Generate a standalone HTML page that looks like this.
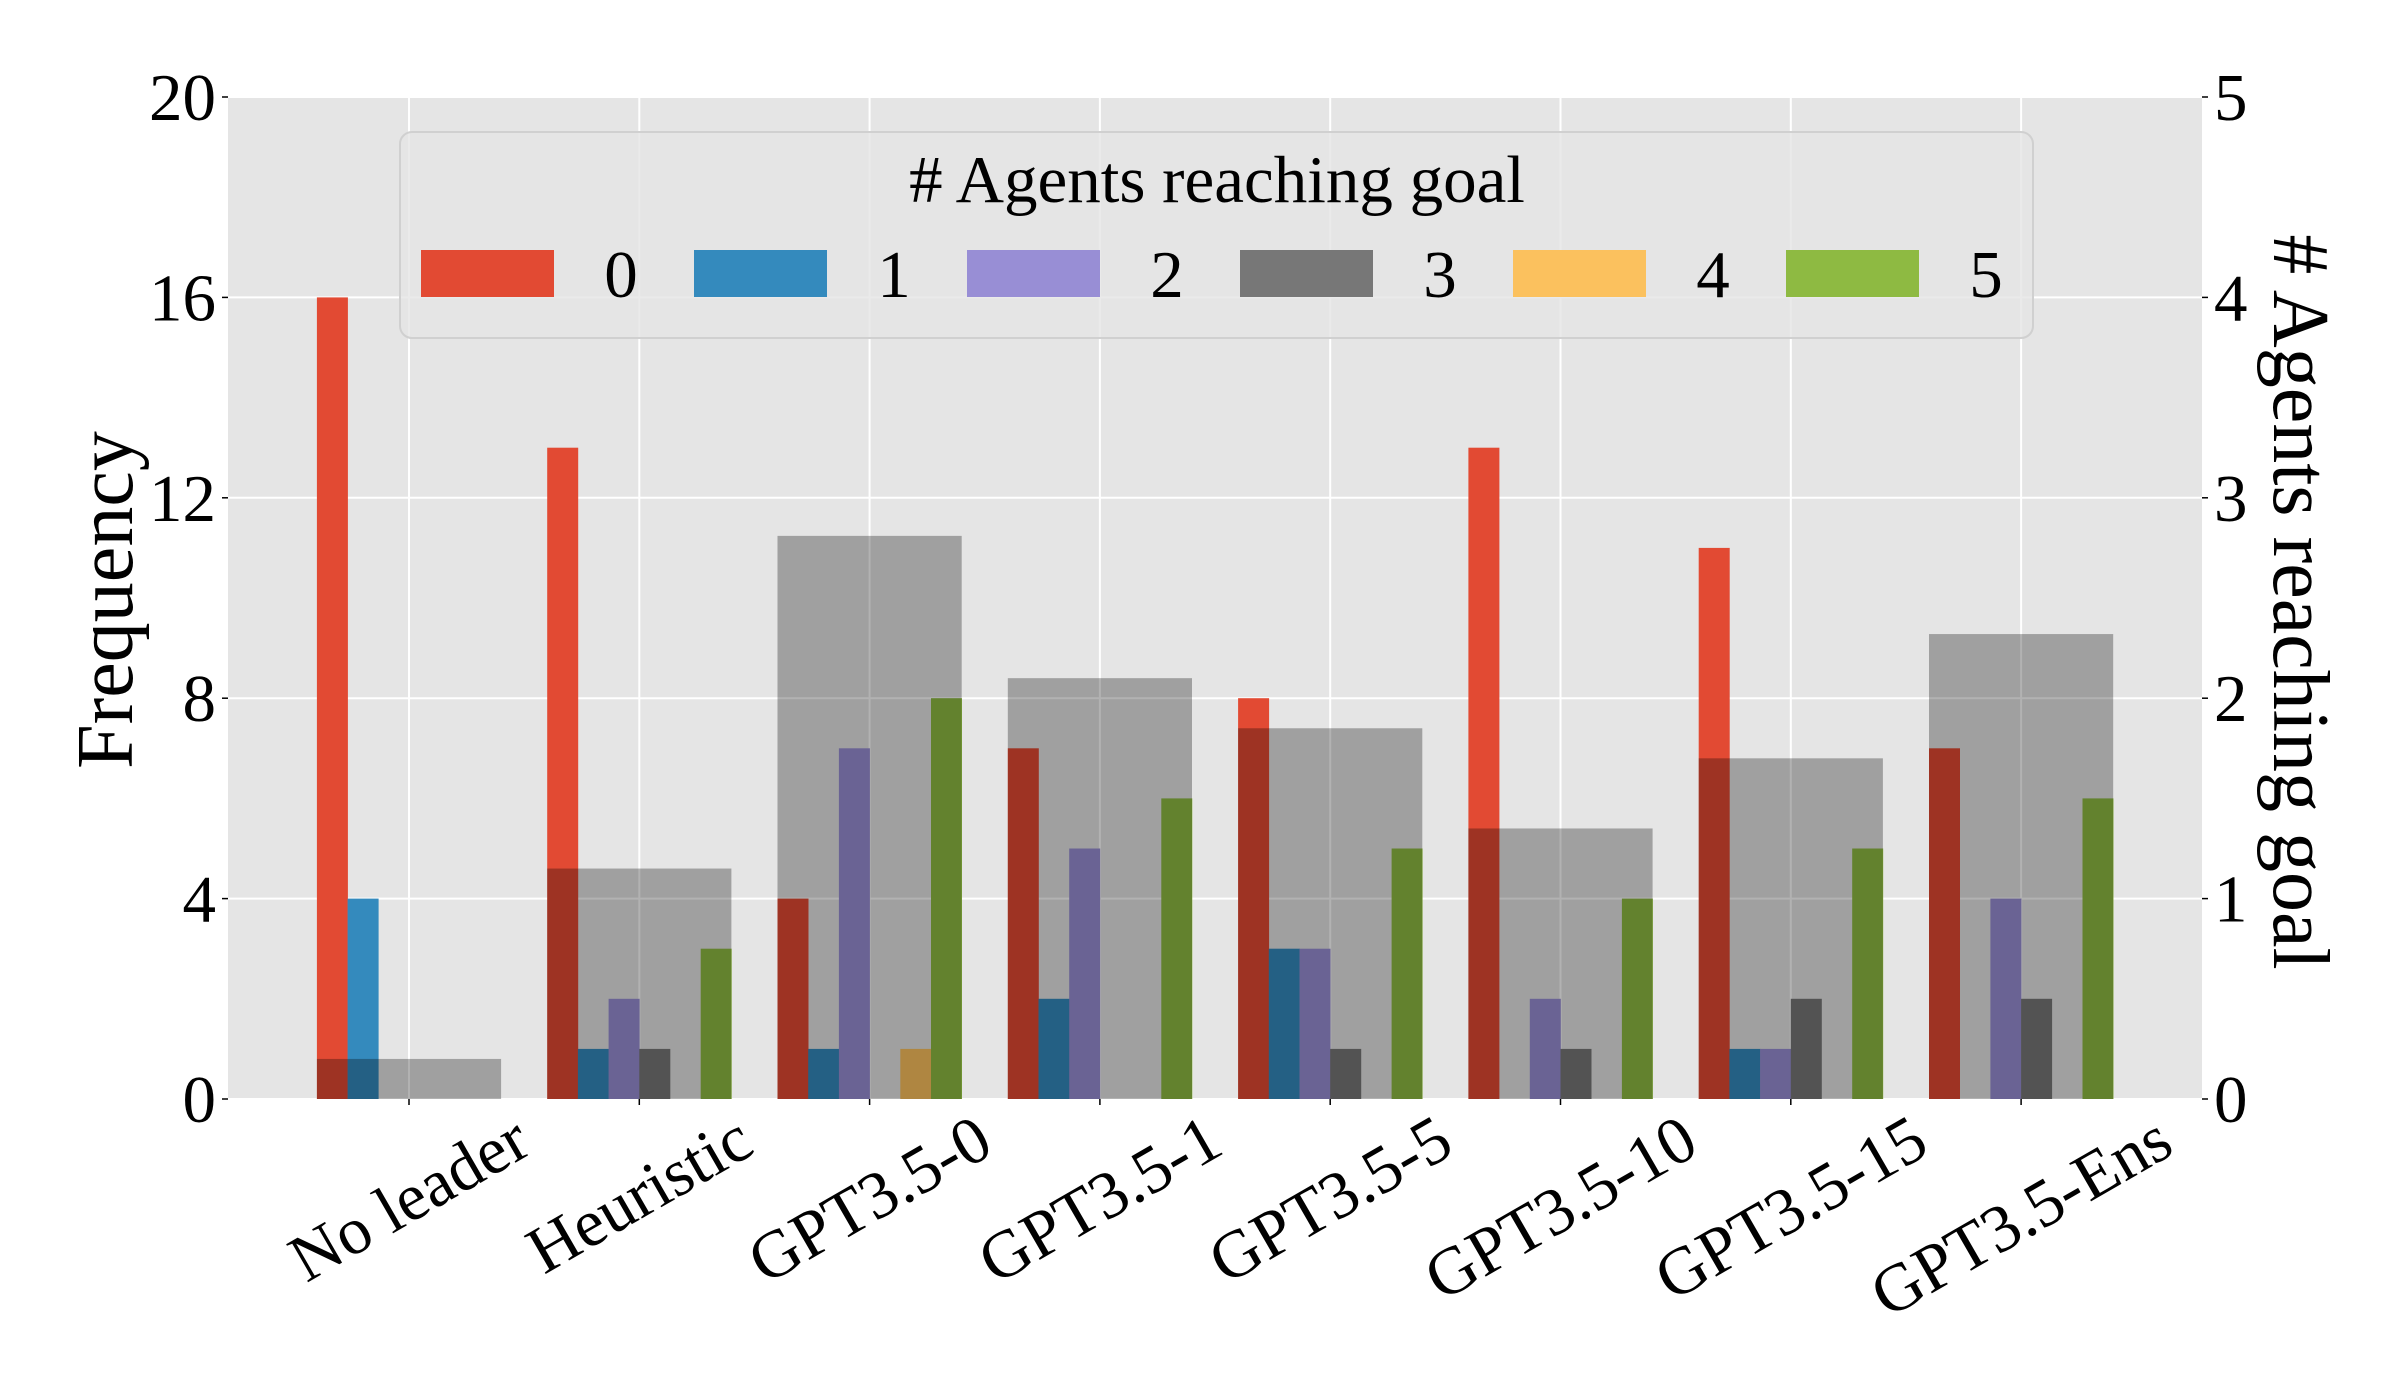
<!DOCTYPE html>
<html><head><meta charset="utf-8"><style>
html,body{margin:0;padding:0;background:#fff;}
svg{display:block;font-family:"Liberation Serif",serif;}
</style></head><body>
<svg id="chart" width="2400" height="1400" viewBox="0 0 2400 1400">
<g id="bg"></g><g id="grid"></g><g id="bars"></g><g id="axes"></g><g id="legend"></g>
</svg>
<script>
const categories = ["No leader","Heuristic","GPT3.5-0","GPT3.5-1","GPT3.5-5","GPT3.5-10","GPT3.5-15","GPT3.5-Ens"];
const seriesLabels = ["0","1","2","3","4","5"];
const freq0 = [16,13,4,7,8,13,11,7];
const freq1 = [4,1,1,2,3,0,1,0];
const freq2 = [0,2,7,5,3,2,1,4];
const freq3 = [0,1,0,0,1,1,2,2];
const freq4 = [0,0,1,0,0,0,0,0];
const freq5 = [0,3,8,6,5,4,5,6];
const meanAgents = [0.2,1.15,2.81,2.1,1.85,1.35,1.7,2.32];
const leftTicks = [0,4,8,12,16,20];
const rightTicks = [0,1,2,3,4,5];

const series = [freq0,freq1,freq2,freq3,freq4,freq5];
const colors = ["#E24A33","#348ABD","#988ED5","#777777","#FBC15E","#8EBA42"];
const L=228,R=2202,T=97,B=1099;
const x0=409, step=230.3, bw=30.7;
const xC = i => x0 + i*step;
const yL = v => B - (v/20)*(B-T);
const yR = v => B - (v/5)*(B-T);
const NS="http://www.w3.org/2000/svg";
function mk(tag, attrs, parent){const e=document.createElementNS(NS,tag);for(const k in attrs)e.setAttribute(k,attrs[k]);parent.appendChild(e);return e;}
const bg=document.getElementById('bg'),grid=document.getElementById('grid'),bars=document.getElementById('bars'),axes=document.getElementById('axes'),leg=document.getElementById('legend');

let r=mk('rect',{x:L,y:T,width:R-L,height:B-T,fill:'#E5E5E5'},bg);



leftTicks.forEach(v=>{
  const l=mk('line',{x1:L,x2:R,y1:yL(v),y2:yL(v),stroke:'#fff','stroke-width':2},grid);
  
  
  const tk=mk('line',{x1:L-6,x2:L,y1:yL(v),y2:yL(v),stroke:'#000','stroke-width':1.5},axes);
  
  
  const t=mk('text',{x:L-12,y:yL(v)+23,'text-anchor':'end','font-size':67},axes);
  t.textContent=v;
  
  
});
rightTicks.forEach(v=>{
  const tk=mk('line',{x1:R,x2:R+6,y1:yR(v),y2:yR(v),stroke:'#000','stroke-width':1.5},axes);
  
  
  const t=mk('text',{x:R+12,y:yR(v)+23,'font-size':67},axes);
  t.textContent=v;
  
  
});
categories.forEach((c,i)=>{
  const l=mk('line',{x1:xC(i),x2:xC(i),y1:T,y2:B,stroke:'#fff','stroke-width':2},grid);
  
  
  const tk=mk('line',{x1:xC(i),x2:xC(i),y1:B,y2:B+6,stroke:'#000','stroke-width':1.5},axes);
  
  
  const t=mk('text',{x:0,y:0,'text-anchor':'middle','font-size':67,'dominant-baseline':'central'},axes);
  t.textContent=c;
  
  
  const w=t.getComputedTextLength();
  const h=67*0.9;
  const bh=w*0.5+h*0.866;
  const cy=B+8+bh/2;
  t.setAttribute('transform',`translate(${xC(i)},${cy}) rotate(-30)`);
});
series.forEach((s,k)=>{
  s.forEach((v,i)=>{
    const x=xC(i)-3*bw+k*bw;
    const b=mk('rect',{x:x,y:yL(v),width:bw+0.3,height:B-yL(v),fill:colors[k]},bars);
    
    
  });
});
meanAgents.forEach((v,i)=>{
  const b=mk('rect',{x:xC(i)-3*bw,y:yR(v),width:6*bw,height:B-yR(v),fill:'rgba(0,0,0,0.3)'},bars);
  
  
});

// axis titles
let yt=mk('text',{x:0,y:0,'text-anchor':'middle','dominant-baseline':'central','font-size':80,transform:'translate(106,600) rotate(-90)'},axes);
yt.textContent='Frequency';


let yt2=mk('text',{x:0,y:0,'text-anchor':'middle','dominant-baseline':'central','font-size':80,transform:'translate(2300,602) rotate(90)'},axes);
yt2.textContent='# Agents reaching goal';



// legend
let lb=mk('rect',{x:400,y:132,width:1633,height:206,rx:12,fill:'rgba(229,229,229,0.8)',stroke:'#d0d0d0','stroke-width':2},leg);


let lt=mk('text',{x:1217,y:202,'text-anchor':'middle','font-size':67},leg);
lt.textContent='# Agents reaching goal';


seriesLabels.forEach((s,k)=>{
  const x=421+k*273;
  const sw=mk('rect',{x:x,y:250,width:133,height:47,fill:colors[k]},leg);
  
  
  const t=mk('text',{x:x+200,y:297,'text-anchor':'middle','font-size':67},leg);
  t.textContent=s;
  
  
});
</script>
</body></html>
